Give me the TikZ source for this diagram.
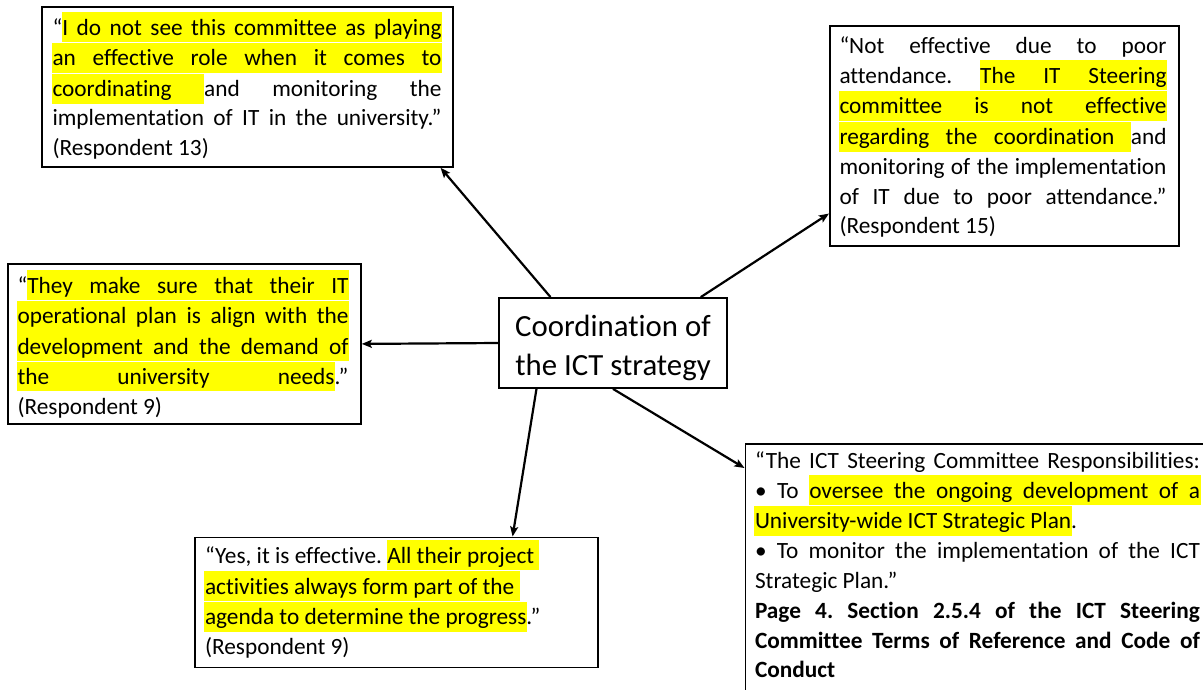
\documentclass[tikz,border=0pt]{standalone}
\usepackage{fontspec}
\setmainfont{Carlito}[Ligatures=NoCommon]
\usetikzlibrary{arrows.meta,calc}
\definecolor{hlyellow}{HTML}{FFFF00}

% highlighted words and the glue between them (the word backgrounds overlap
% the neighbouring glue a little so that no seam shows)
\newcommand\histrut{\vrule height 0.98em depth 0.3em width 0pt\relax}
\newcommand\hiword[1]{\kern-0.6pt{\fboxsep=0pt\colorbox{hlyellow}{\kern0.6pt\histrut#1\kern0.6pt}}\kern-0.6pt}
\newcommand\hispace{{\color{hlyellow}\leaders\vrule height 0.98em depth 0.3em\hskip 0.226em plus 1fil minus 0.1em}}
\newcommand\hiend{{\color{hlyellow}\vrule height 0.98em depth 0.3em width 0.226em}}
\def\hiloop#1 #2\relax{\hiword{#1}\if\relax\detokenize{#2}\relax\else\hispace\hiloop#2\relax\fi}
\newcommand\hilite[1]{\hiloop#1 \relax}
% one justified line, one line at natural width
\newcommand\justline[1]{\hbox to \hsize{\spaceskip=0.226em plus 1fil minus 0.1em\relax#1}}
\newcommand\natline[1]{\hbox{#1}}
\newcommand\quotebody[3]{\parbox[t]{#1}{\fontsize{23.3}{#2}\selectfont\frenchspacing#3}}

\tikzset{
  quotebox/.style={draw=black, line width=1.8pt, anchor=north west, inner sep=0pt, fill=white},
  bodytext/.style={anchor=base west, inner sep=0pt, outer sep=0pt, text=black},
  link/.style={line width=2.2pt, -{Stealth[length=10pt,width=8pt,inset=2pt]}}
}

\begin{document}
\begin{tikzpicture}[x=1pt,y=-1pt]
\useasboundingbox (0,0) rectangle (1203,689);

% central box
\node[quotebox, anchor=center, minimum width=228pt, minimum height=90pt] (c) at (613,343) {};
\node[anchor=base, inner sep=0pt] (ct) at (613,336.7)
  {\parbox[t]{226pt}{\centering\fontsize{30.8}{38.3}\selectfont Coordination of\\the ICT strategy}};

% quotation boxes
\node[quotebox, minimum width=411pt, minimum height=160pt] (q1) at (41,6) {};
\node[bodytext] (t1) at (52.5,35) {\quotebody{389pt}{29.3pt}{%
  \justline{“\hilite{I do not see this committee as playing}}
  \justline{\hilite{an effective role when it comes to}}
  \justline{\hilite{coordinating}\hispace and monitoring the}
  \justline{implementation of IT in the university.”}
  \natline{(Respondent 13)}}};

\node[quotebox, minimum width=349pt, minimum height=220pt] (q2) at (829,25) {};
\node[bodytext] (t2) at (839.5,53.3) {\quotebody{327pt}{29.7pt}{%
  \justline{“Not effective due to poor}
  \justline{attendance. \hilite{The IT Steering}}
  \justline{\hilite{committee is not effective}}
  \justline{\hilite{regarding the coordination}\hispace and}
  \justline{monitoring of the implementation}
  \justline{of IT due to poor attendance.”}
  \natline{(Respondent 15)}}};

\node[quotebox, minimum width=353pt, minimum height=160pt] (q3) at (7,263) {};
\node[bodytext] (t3) at (17.5,293.3) {\quotebody{331pt}{30.4pt}{%
  \justline{“\hilite{They make sure that their IT}}
  \justline{\hilite{operational plan is align with the}}
  \justline{\hilite{development and the demand of}}
  \justline{\hilite{the university needs}.”}
  \natline{(Respondent 9)}}};

\node[quotebox, minimum width=470pt, minimum height=270pt] (q4) at (744.5,443) {};
\node[bodytext] (t4) at (755,468.3) {\quotebody{445pt}{29.8pt}{%
  \justline{“The ICT Steering Committee Responsibilities:}
  \justline{• To \hilite{oversee the ongoing development of a}}
  \natline{\hilite{University-wide ICT Strategic Plan}.}
  \justline{• To monitor the implementation of the ICT}
  \natline{Strategic Plan.”}
  \justline{\bfseries Page 4. Section 2.5.4 of the ICT Steering}
  \justline{\bfseries Committee Terms of Reference and Code of}
  \natline{\bfseries Conduct}}};

\node[quotebox, minimum width=403pt, minimum height=130pt] (q5) at (194,536.5) {};
\node[bodytext] (t5) at (205,563.3) {\quotebody{380pt}{29.5pt}{%
  \natline{“Yes, it is effective. \hilite{All their project}\hiend}
  \natline{\hilite{activities always form part of the}\hiend}
  \natline{\hilite{agenda to determine the progress}.”}
  \natline{(Respondent 9)}}};

% connectors from the central box
\draw[link] ($(c.north west)!0.228!(c.north east)$) -- ($(q1.south west)!0.968!(q1.south east)$);
\draw[link] ($(c.north west)!0.882!(c.north east)$) -- ($(q2.north west)!0.85!(q2.south west)$);
\draw[link] (c.west) -- (q3.east);
\draw[link] (c.south) -- ([yshift=-25pt]q4.north west);
\draw[link] ($(c.south west)!0.167!(c.south east)$) -- ($(q5.north west)!0.787!(q5.north east)$);
\end{tikzpicture}
\end{document}
